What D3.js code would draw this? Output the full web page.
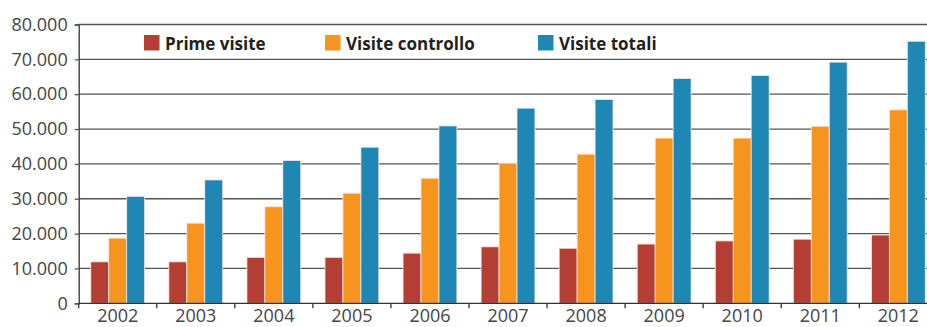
<!DOCTYPE html>
<html>
<head>
<meta charset="utf-8">
<script src="https://cdn.jsdelivr.net/npm/d3@7"></script>
<style>
  html, body { margin: 0; padding: 0; background: #fff; }
  svg { display: block; }
</style>
</head>
<body>
<svg id="chart" width="927" height="327"></svg>
<script>
// Visite per anno
const years = ["2002","2003","2004","2005","2006","2007","2008","2009","2010","2011","2012"];
const seriesNames = ["Prime visite", "Visite controllo", "Visite totali"];
const primeVisite     = [11900, 11900, 13200, 13200, 14400, 16200, 15800, 17000, 17900, 18400, 19600];
const visiteControllo = [18700, 23000, 27700, 31600, 35900, 40200, 42800, 47400, 47400, 50800, 55500];
const visiteTotali    = [30700, 35400, 41000, 44800, 50900, 56000, 58500, 64500, 65400, 69200, 75200];
const yTicks = [0, 10000, 20000, 30000, 40000, 50000, 60000, 70000, 80000];
const colors = ["#b43e34", "#f7941e", "#1e87b4"];

const seriesValues = [primeVisite, visiteControllo, visiteTotali];

const svg = d3.select("#chart");
const W = 927;
const plotLeft = 78.7, plotTop = 24.5, plotBottom = 303.3;
const bandW = 78.06;

const x0 = d3.scaleBand().domain(years).range([plotLeft, plotLeft + bandW * years.length]).padding(0);
const x1 = d3.scaleBand().domain(seriesNames)
  .range([x0.bandwidth() * 0.155, x0.bandwidth() * 0.845]).padding(0);
const y = d3.scaleLinear().domain([0, 80000]).range([plotBottom, plotTop]);

const fmt = v => v === 0 ? "0" : d3.format(",")(v).replace(/,/g, ".");

// Gridlines
svg.append("g")
  .selectAll("line")
  .data(yTicks.filter(d => d > 0))
  .join("line")
  .attr("x1", plotLeft).attr("x2", W)
  .attr("y1", d => y(d)).attr("y2", d => y(d))
  .attr("stroke", "#555").attr("stroke-width", 1.3);

// Y axis
const yAxis = svg.append("g")
  .attr("transform", `translate(${plotLeft},0)`)
  .call(d3.axisLeft(y).tickValues(yTicks).tickFormat(fmt).tickSize(4).tickPadding(7));
yAxis.select(".domain").attr("stroke", "#333").attr("stroke-width", 1.3);
yAxis.selectAll(".tick line").attr("stroke", "#555").attr("stroke-width", 1.3);
yAxis.selectAll("text")
  .attr("font-family", "'Open Sans', sans-serif")
  .attr("font-size", 18).attr("fill", "#454545");

// Bars
const groups = svg.append("g")
  .selectAll("g")
  .data(years)
  .join("g")
  .attr("transform", d => `translate(${x0(d)},0)`);

groups.selectAll("rect")
  .data((yr, i) => seriesNames.map((s, k) => ({ s, k, v: seriesValues[k][i] })))
  .join("rect")
  .attr("x", d => x1(d.s))
  .attr("width", x1.bandwidth())
  .attr("y", d => y(d.v))
  .attr("height", d => y(0) - y(d.v))
  .attr("fill", d => colors[d.k])
  .attr("stroke", "#fbe9e6")
  .attr("stroke-width", 0.8);

// X axis
const xAxisG = svg.append("g").attr("transform", `translate(0,${plotBottom})`);
xAxisG.append("line")
  .attr("x1", plotLeft).attr("x2", W)
  .attr("stroke", "#333").attr("stroke-width", 1.3);
xAxisG.selectAll("line.tk")
  .data(years)
  .join("line")
  .attr("class", "tk")
  .attr("x1", d => x0(d)).attr("x2", d => x0(d))
  .attr("y1", 0).attr("y2", 5)
  .attr("stroke", "#333").attr("stroke-width", 1.3);
xAxisG.selectAll("text")
  .data(years)
  .join("text")
  .attr("x", d => x0(d) + x0.bandwidth() / 2)
  .attr("y", 19.2)
  .attr("text-anchor", "middle")
  .attr("font-family", "'Open Sans', sans-serif")
  .attr("font-size", 18).attr("fill", "#454545")
  .text(d => d);

// Legend
const legendX = [144, 325, 538];
const legend = svg.append("g")
  .selectAll("g")
  .data(seriesNames)
  .join("g")
  .attr("transform", (d, i) => `translate(${legendX[i]},35)`);
legend.append("rect")
  .attr("width", 15.5).attr("height", 15.5)
  .attr("fill", (d, i) => colors[i]);
legend.append("text")
  .attr("x", 21).attr("y", 15)
  .attr("font-family", "'Open Sans', sans-serif")
  .attr("font-weight", 700)
  .attr("font-size", 17)
  .attr("fill", "#231f20")
  .text(d => d);
</script>
</body>
</html>
